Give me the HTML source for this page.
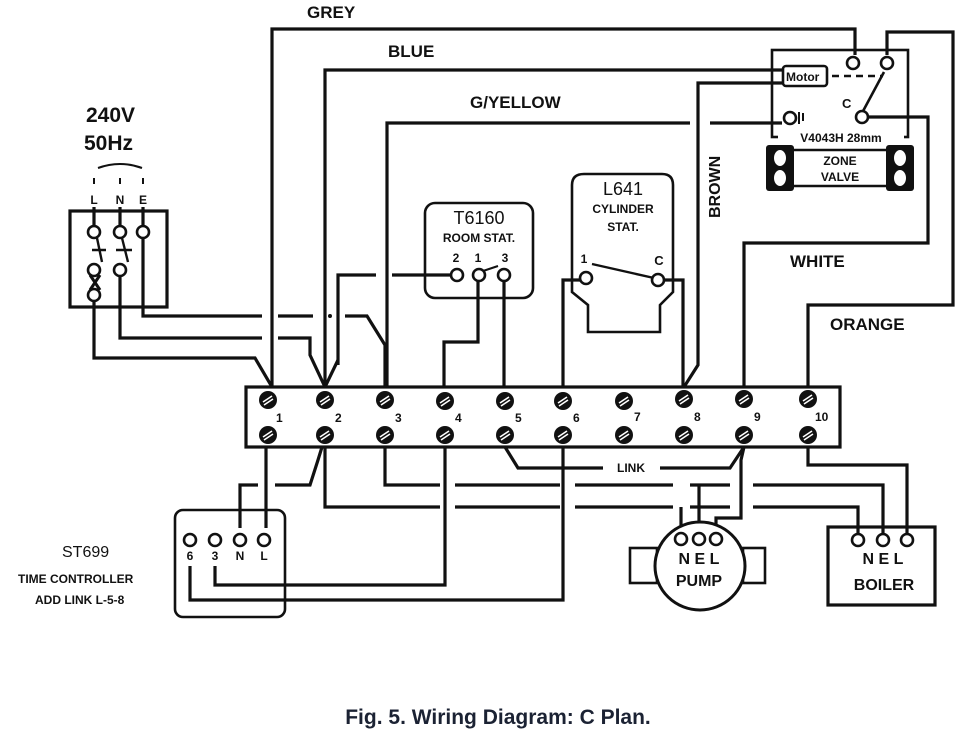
<!DOCTYPE html>
<html><head><meta charset="utf-8"><style>
html,body{margin:0;padding:0;background:#fff;}
svg{display:block;font-family:"Liberation Sans",sans-serif;}
.w{fill:none;stroke:#111;stroke-width:3.2;stroke-linejoin:miter;}
.t{fill:#fff;stroke:#111;stroke-width:2.6;}
.b{font-weight:bold;fill:#111;}
</style></head><body>
<svg width="966" height="738" viewBox="0 0 966 738" xmlns="http://www.w3.org/2000/svg">
<defs>
<g id="sc"><circle r="9" fill="#111"/><path d="M-5 2 L4 -4 M-4 5 L5 -1" stroke="#fff" stroke-width="1.6"/></g>
</defs>

<text x="307" y="18" class="b" font-size="17">GREY</text>
<text x="388" y="57" class="b" font-size="17">BLUE</text>
<text x="470" y="108" class="b" font-size="17">G/YELLOW</text>
<text x="790" y="267" class="b" font-size="17">WHITE</text>
<text x="830" y="330" class="b" font-size="17">ORANGE</text>
<text transform="translate(720,218) rotate(-90)" class="b" font-size="16">BROWN</text>
<text x="86" y="122" class="b" font-size="21">240V</text>
<text x="84" y="150" class="b" font-size="21">50Hz</text>

<path class="w" d="M272 387 V29 H855 V55"/>
<path class="w" d="M325 387 V70 H785"/>
<path class="w" d="M387 387 V123 H690 M710 123 H782"/>
<path class="w" d="M684 387 L698 365 V83 H785"/>
<path class="w" d="M887 55 V32 H953 V305 H808 V387"/>
<path class="w" d="M862 117 H928 V243 H744 V387"/>

<rect class="w" x="772" y="50" width="136" height="87" style="stroke-width:2.6"/>
<rect x="783" y="66" width="44" height="20" rx="3" fill="#fff" stroke="#111" stroke-width="2.6"/>
<text x="786" y="81" class="b" font-size="12">Motor</text>
<path d="M832 76 H883" stroke="#111" stroke-width="2.4" stroke-dasharray="7,5"/>
<path d="M862 113 L884 72" stroke="#111" stroke-width="2.6"/>
<circle class="t" cx="853" cy="63" r="6"/>
<circle class="t" cx="887" cy="63" r="6"/>
<circle class="t" cx="862" cy="117" r="6"/>
<circle class="t" cx="790" cy="118" r="6"/>
<path d="M799 112 V124 M803 113 V121" stroke="#111" stroke-width="2"/>
<text x="842" y="108" class="b" font-size="13">C</text>
<rect x="778" y="131" width="126" height="12" fill="#fff"/>
<text x="841" y="142" class="b" font-size="12" text-anchor="middle">V4043H 28mm</text>
<path class="w" d="M790 150 H890 V186 H790 Z" style="stroke-width:2.6"/>
<rect x="766" y="145" width="28" height="46" rx="3" fill="#111"/>
<rect x="886" y="145" width="28" height="46" rx="3" fill="#111"/>
<ellipse cx="780" cy="158" rx="6" ry="8" fill="#fff"/><ellipse cx="780" cy="178" rx="6" ry="8" fill="#fff"/>
<ellipse cx="900" cy="158" rx="6" ry="8" fill="#fff"/><ellipse cx="900" cy="178" rx="6" ry="8" fill="#fff"/>
<text x="840" y="165" class="b" font-size="12" text-anchor="middle">ZONE</text>
<text x="840" y="181" class="b" font-size="12" text-anchor="middle">VALVE</text>

<path d="M98 168 Q120 160 142 168" class="w" style="stroke-width:2"/>
<path d="M94 178 V184 M120 178 V184 M143 178 V184" stroke="#111" stroke-width="2"/>
<text x="94" y="204" class="b" font-size="12" text-anchor="middle">L</text>
<text x="120" y="204" class="b" font-size="12" text-anchor="middle">N</text>
<text x="143" y="204" class="b" font-size="12" text-anchor="middle">E</text>
<rect class="w" x="70" y="211" width="97" height="96"/>
<path class="w" d="M94 207 V226 M120 207 V226 M143 207 V226"/>
<path d="M97 238 L102 262 M122 238 L128 262 M92 250 H106 M116 250 H132" stroke="#111" stroke-width="2.4"/>
<path class="w" d="M143 238 V316 H262 M278 316 H313 M345 316 H367 L385 345 V387" />
<circle cx="330" cy="316" r="2" fill="#111"/>
<path class="w" d="M120 276 V338 H262 M278 338 H310 V355 L325 387"/>
<path class="w" d="M94 300 V358 H255 L272 387"/>
<path d="M90 275 L100 290 M100 275 L90 290" stroke="#111" stroke-width="3"/>
<circle class="t" cx="94" cy="232" r="6"/><circle class="t" cx="120" cy="232" r="6"/><circle class="t" cx="143" cy="232" r="6"/>
<circle class="t" cx="94" cy="270" r="6"/><circle class="t" cx="120" cy="270" r="6"/><circle class="t" cx="94" cy="295" r="6"/>

<rect class="w" x="425" y="203" width="108" height="95" rx="10" style="stroke-width:2.6"/>
<text x="479" y="224" font-size="18" text-anchor="middle" fill="#111">T6160</text>
<text x="479" y="242" class="b" font-size="12" text-anchor="middle">ROOM STAT.</text>
<text x="456" y="262" class="b" font-size="12" text-anchor="middle">2</text>
<text x="478" y="262" class="b" font-size="12" text-anchor="middle">1</text>
<text x="505" y="262" class="b" font-size="12" text-anchor="middle">3</text>
<path class="w" d="M338 365 V275 H376 M392 275 H452"/>
<path class="w" d="M325 387 L338 360"/>
<path class="w" d="M478 281 V342 H444 V387"/>
<path class="w" d="M504 281 V387"/>
<path d="M483 271 L498 266" stroke="#111" stroke-width="2"/>
<circle class="t" cx="457" cy="275" r="6"/><circle class="t" cx="479" cy="275" r="6"/><circle class="t" cx="504" cy="275" r="6"/>

<path class="w" d="M572 280 V185 Q572 174 584 174 H662 Q673 174 673 185 V292 L660 305 V332 H588 V305 L572 292 Z" style="stroke-width:2.6"/>
<text x="623" y="195" font-size="18" text-anchor="middle" fill="#111">L641</text>
<text x="623" y="213" class="b" font-size="12" text-anchor="middle">CYLINDER</text>
<text x="623" y="231" class="b" font-size="12" text-anchor="middle">STAT.</text>
<text x="584" y="263" class="b" font-size="12" text-anchor="middle">1</text>
<text x="659" y="265" class="b" font-size="13" text-anchor="middle">C</text>
<path d="M592 264 L654 278" stroke="#111" stroke-width="2.4"/>
<path class="w" d="M580 280 H563 V387"/>
<path class="w" d="M664 280 H683 V387"/>
<circle class="t" cx="586" cy="278" r="6"/><circle class="t" cx="658" cy="280" r="6"/>

<rect class="w" x="246" y="387" width="594" height="60"/>
<g>
<use href="#sc" x="268" y="400"/><use href="#sc" x="325" y="400"/><use href="#sc" x="385" y="400"/><use href="#sc" x="445" y="401"/><use href="#sc" x="505" y="401"/><use href="#sc" x="563" y="401"/><use href="#sc" x="624" y="401"/><use href="#sc" x="684" y="399"/><use href="#sc" x="744" y="399"/><use href="#sc" x="808" y="399"/>
<use href="#sc" x="268" y="435"/><use href="#sc" x="325" y="435"/><use href="#sc" x="385" y="435"/><use href="#sc" x="445" y="435"/><use href="#sc" x="505" y="435"/><use href="#sc" x="563" y="435"/><use href="#sc" x="624" y="435"/><use href="#sc" x="684" y="435"/><use href="#sc" x="744" y="435"/><use href="#sc" x="808" y="435"/>
</g>
<g class="b" font-size="12">
<text x="276" y="422">1</text><text x="335" y="422">2</text><text x="395" y="422">3</text><text x="455" y="422">4</text><text x="515" y="422">5</text><text x="573" y="422">6</text><text x="634" y="421">7</text><text x="694" y="421">8</text><text x="754" y="421">9</text><text x="815" y="421">10</text>
</g>

<path class="w" d="M266 447 V528"/>
<path class="w" d="M240 528 V485 H258 M275 485 H310 L318 460 L322 447"/>
<path class="w" d="M325 447 V507 H440 M455 507 H560 M575 507 H673 M690 507 H730 M753 507 H858 V535"/>
<path class="w" d="M385 447 V485 H440 M455 485 H560 M575 485 H673 M690 485 H730 M753 485 H883 V535"/>
<path class="w" d="M681 535 V507 M699 535 V485"/>
<path class="w" d="M716 535 V518 H741 V460 L744 447"/>
<path class="w" d="M445 447 V585 H215 V566"/>
<path class="w" d="M563 447 V600 H190 V566"/>
<path class="w" d="M505 447 L518 468 H603 M660 468 H730 L744 447"/>
<text x="631" y="472" class="b" font-size="12" text-anchor="middle">LINK</text>
<path class="w" d="M808 447 V465 H907 V535"/>

<rect class="w" x="175" y="510" width="110" height="107" rx="8" style="stroke-width:2.6"/>
<circle class="t" cx="190" cy="540" r="6"/><circle class="t" cx="215" cy="540" r="6"/><circle class="t" cx="240" cy="540" r="6"/><circle class="t" cx="264" cy="540" r="6"/>
<g class="b" font-size="12" text-anchor="middle"><text x="190" y="560">6</text><text x="215" y="560">3</text><text x="240" y="560">N</text><text x="264" y="560">L</text></g>
<text x="62" y="557" font-size="16" fill="#111">ST699</text>
<text x="18" y="583" class="b" font-size="12">TIME CONTROLLER</text>
<text x="35" y="604" class="b" font-size="12">ADD LINK L-5-8</text>

<rect class="w" x="630" y="548" width="27" height="35" style="stroke-width:2.6"/>
<rect class="w" x="743" y="548" width="22" height="35" style="stroke-width:2.6"/>
<ellipse cx="700" cy="566" rx="45" ry="44" fill="#fff" stroke="#111" stroke-width="3"/>
<circle class="t" cx="681" cy="539" r="6"/><circle class="t" cx="699" cy="539" r="6"/><circle class="t" cx="716" cy="539" r="6"/>
<text x="699" y="564" class="b" font-size="16" text-anchor="middle">N E L</text>
<text x="699" y="586" class="b" font-size="16" text-anchor="middle">PUMP</text>

<rect class="w" x="828" y="527" width="107" height="78"/>
<circle class="t" cx="858" cy="540" r="6"/><circle class="t" cx="883" cy="540" r="6"/><circle class="t" cx="907" cy="540" r="6"/>
<text x="883" y="564" class="b" font-size="16" text-anchor="middle">N E L</text>
<text x="884" y="590" class="b" font-size="16" text-anchor="middle">BOILER</text>

<text x="498" y="724" font-size="21" font-weight="bold" fill="#1b2233" text-anchor="middle">Fig. 5. Wiring Diagram: C Plan.</text>
</svg>
</body></html>
